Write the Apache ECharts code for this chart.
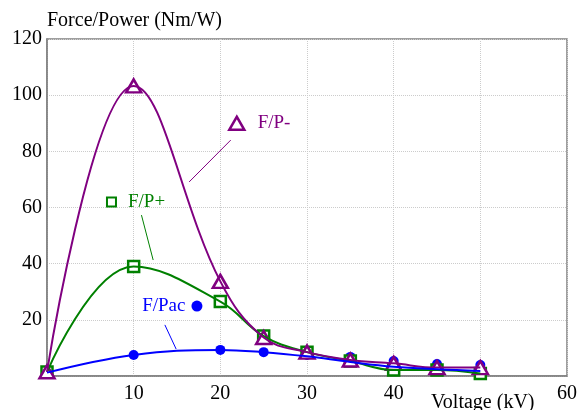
<!DOCTYPE html>
<html>
<head>
<meta charset="utf-8">
<script src="https://cdn.jsdelivr.net/npm/echarts@6/dist/echarts.min.js"></script>
<style>
  html, body { margin: 0; padding: 0; background: #fff; }
  #chart { width: 580px; height: 410px; }
</style>
</head>
<body>
<div id="chart"></div>
<script>
// voltage (kV) of each measurement
var voltages = [0, 10, 20, 25, 30, 35, 40, 45, 50];
// F/P- (purple triangles)
var fpMinus = [1.5, 103.3, 33.7, 13.7, 8.5, 5.7, 4.5, 3.0, 3.0];
// F/P+ (green squares)
var fpPlus = [1.4, 39, 26.5, 14.2, 8.5, 5.3, 2.1, 2.1, 0.9];
// F/Pac (blue dots) and its fitted curve
var fpAcDots = [1.5, 7.5, 9.3, 8.5, 7.5, 6.8, 5.3, 4.3, 3.9];
var fpAcLine = [1.2, 7.5, 9.3, 8.5, 7.0, 5.0, 3.3, 2.4, 1.8];

var xTicks = [0, 10, 20, 30, 40, 50, 60];
var hiddenXTicks = [0, 50];
var yTicks = [0, 20, 40, 60, 80, 100, 120];

// pin annotations: marker position, pin start, pin end (data coords)
var pinMinus = { mark: [21.9, 90], from: [21.2, 84.0], to: [16.4, 69.1] };
var pinPlus = { mark: [7.44, 62], from: [10.9, 57.3], to: [12.25, 41.3] };
var pinAc = { mark: [17.3, 24.9], from: [13.6, 18.2], to: [14.9, 9.6] };

var PURPLE = '#800080', GREEN = '#008000', BLUE = '#0000ff';
var FONT = 'Liberation Serif';

function pairs(ys) {
  return voltages.map(function (v, i) { return [v, ys[i]]; });
}

function curve(name, ys, color) {
  return {
    name: name, type: 'line', data: pairs(ys), smooth: 0.4,
    showSymbol: false, lineStyle: { color: color, width: 2 }, silent: true
  };
}

function marks(name, ys, symbol, size, color, filled) {
  return {
    name: name, type: 'scatter', data: pairs(ys), symbol: symbol, symbolSize: size,
    itemStyle: filled ? { color: color, opacity: 1 } : { color: '#fff', borderColor: color, borderWidth: 2.5, opacity: 1 },
    silent: true
  };
}

var chart = echarts.init(document.getElementById('chart'));

var option = {
  animation: false,
  textStyle: { fontFamily: FONT },
  title: [
    { text: 'Force/Power (Nm/W)', left: 47, top: 11, padding: 0,
      textStyle: { fontFamily: FONT, fontSize: 20, fontWeight: 'normal', color: '#000' } },
    { text: 'Voltage (kV)', left: 431, top: 393, padding: 0,
      textStyle: { fontFamily: FONT, fontSize: 20, fontWeight: 'normal', color: '#000' } }
  ],
  grid: { left: 47, right: 9, top: 39, bottom: 34, show: true, borderColor: '#808080', borderWidth: 1.5 },
  xAxis: {
    type: 'value', min: xTicks[0], max: xTicks[xTicks.length - 1], interval: 10,
    axisLine: { lineStyle: { color: '#808080', width: 1.5 } },
    axisTick: { show: false },
    axisLabel: {
      fontFamily: FONT, fontSize: 20, color: '#000', margin: 8,
      formatter: function (v) { return hiddenXTicks.indexOf(v) >= 0 ? '' : String(v); }
    },
    splitLine: { show: true, lineStyle: { color: '#cccccc', type: 'dotted', width: 1 } }
  },
  yAxis: {
    type: 'value', min: yTicks[0], max: yTicks[yTicks.length - 1], interval: 20,
    axisLine: { show: true, lineStyle: { color: '#808080', width: 1.5 } },
    axisTick: { show: false },
    axisLabel: {
      fontFamily: FONT, fontSize: 20, color: '#000', margin: 5,
      formatter: function (v) { return v === 0 ? '' : String(v); }
    },
    splitLine: { show: true, lineStyle: { color: '#cccccc', type: 'dotted', width: 1 } }
  },
  series: [
    curve('F/P+ curve', fpPlus, GREEN),
    curve('F/P- curve', fpMinus, PURPLE),
    curve('F/Pac curve', fpAcLine, BLUE),
    marks('F/Pac', fpAcDots, 'circle', 10, BLUE, true),
    marks('F/P+', fpPlus, 'rect', 11, GREEN, false),
    marks('F/P-', fpMinus, 'triangle', [15, 13], PURPLE, false),
    {
      name: 'pins', type: 'scatter', silent: true,
      data: [
        { value: pinMinus.mark, symbol: 'triangle', symbolSize: [15, 13],
          itemStyle: { color: '#fff', borderColor: PURPLE, borderWidth: 2.5, opacity: 1 },
          label: { show: true, position: 'right', distance: 12, formatter: 'F/P-', color: PURPLE, fontSize: 19, fontFamily: FONT } },
        { value: pinPlus.mark, symbol: 'rect', symbolSize: 9,
          itemStyle: { color: '#fff', borderColor: GREEN, borderWidth: 2, opacity: 1 },
          label: { show: true, position: 'right', distance: 11, formatter: 'F/P+', color: GREEN, fontSize: 19, fontFamily: FONT } },
        { value: pinAc.mark, symbol: 'circle', symbolSize: 11,
          itemStyle: { color: BLUE, opacity: 1 },
          label: { show: true, position: 'left', distance: 6, formatter: 'F/Pac', color: BLUE, fontSize: 19, fontFamily: FONT } }
      ],
      markLine: {
        silent: true, symbol: 'none', label: { show: false },
        data: [
          [{ coord: pinMinus.from, lineStyle: { color: PURPLE, width: 1, type: 'solid' } }, { coord: pinMinus.to }],
          [{ coord: pinPlus.from, lineStyle: { color: GREEN, width: 1, type: 'solid' } }, { coord: pinPlus.to }],
          [{ coord: pinAc.from, lineStyle: { color: BLUE, width: 1, type: 'solid' } }, { coord: pinAc.to }]
        ]
      }
    }
  ]
};

chart.setOption(option);
</script>
</body>
</html>
